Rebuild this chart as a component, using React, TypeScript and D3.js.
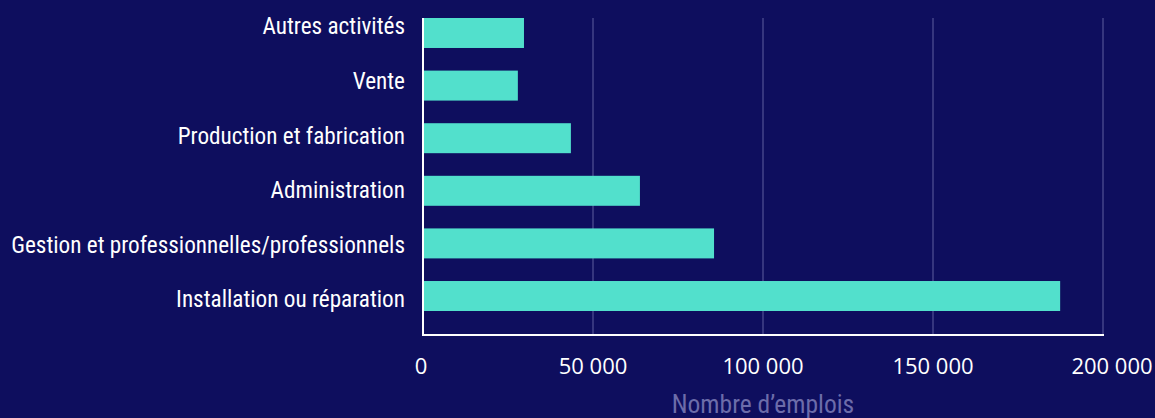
import React from "react";
import * as d3 from "d3";

const categories = [
  "Autres activités",
  "Vente",
  "Production et fabrication",
  "Administration",
  "Gestion et professionnelles/professionnels",
  "Installation ou réparation",
];
const values = [29700, 27900, 43500, 63800, 85600, 187400];
const tickValues = [0, 50000, 100000, 150000, 200000];
const axisTitle = "Nombre d’emplois";

const W = 1155;
const H = 418;
const left = 423;
const right = 1103;
const top = 18;
const bottom = 335;

export default function App() {
  const x = d3.scaleLinear().domain([0, 200000]).range([left, right]);
  const y = d3
    .scaleBand<string>()
    .domain(categories)
    .range([top, top + 5 * 52.6 + 30])
    .paddingInner(0.43)
    .paddingOuter(0);
  const yl = d3.scalePoint<string>().domain(categories).range([26, 299]);
  const fmt = (v: number) => d3.format(",")(v).replace(/,/g, " ");
  const bg = "#0e0e5e";
  const tickShift = (t: number, i: number) =>
    i === 0 ? -2 : i === tickValues.length - 1 ? 9 : 0;
  return (
    <svg
      width={W}
      height={H}
      style={{ position: "absolute", left: 0, top: 0, background: bg }}
    >
      <rect x={0} y={0} width={W} height={H} fill={bg} />
      {tickValues.slice(1).map((t) => (
        <line
          key={"g" + t}
          x1={x(t)}
          x2={x(t)}
          y1={top}
          y2={bottom}
          stroke="#44448a"
          strokeWidth={1.5}
        />
      ))}
      {categories.map((c, i) => (
        <rect
          key={c}
          x={x(0) + 1}
          y={y(c)}
          width={x(values[i]) - x(0) - 1}
          height={y.bandwidth()}
          fill="#52e0cc"
        />
      ))}
      <line x1={x(0)} x2={x(0)} y1={top} y2={bottom + 1} stroke="#ffffff" strokeWidth={2} />
      <line x1={x(0) - 1} x2={right + 1} y1={bottom} y2={bottom} stroke="#ffffff" strokeWidth={2} />
      {categories.map((c) => (
        <text
          key={"l" + c}
          x={405}
          y={yl(c)}
          dy="0.36em"
          textAnchor="end"
          fill="#ffffff"
          fontFamily="Roboto, sans-serif"
          fontSize={23.2}
          style={{ fontStretch: "condensed" }}
        >
          {c}
        </text>
      ))}
      {tickValues.map((t, i) => (
        <text
          key={"t" + t}
          x={x(t) + tickShift(t, i)}
          y={374}
          textAnchor="middle"
          fill="#ffffff"
          fontFamily="'Open Sans', sans-serif"
          fontSize={22}
        >
          {fmt(t)}
        </text>
      ))}
      <text
        x={(left + right) / 2}
        y={413}
        textAnchor="middle"
        fill="#6c6caa"
        fontFamily="Roboto, sans-serif"
        fontSize={25.5}
        style={{ fontStretch: "condensed" }}
      >
        {axisTitle}
      </text>
    </svg>
  );
}
